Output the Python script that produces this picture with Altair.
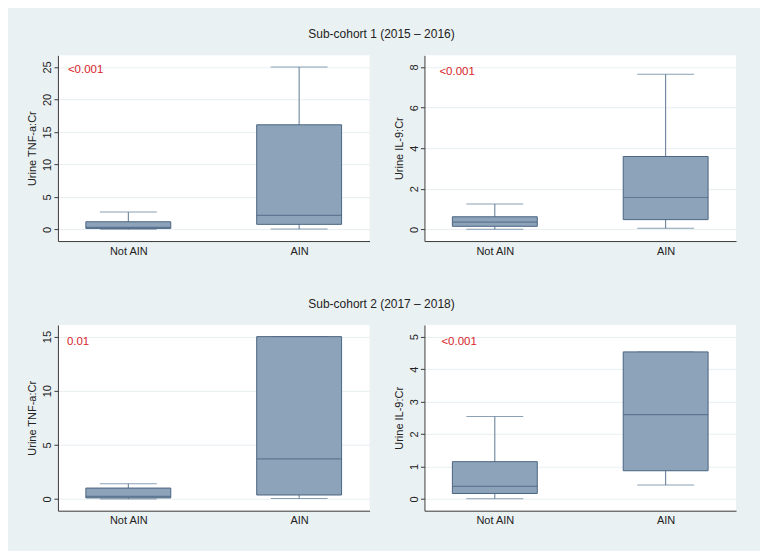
import altair as alt
import pandas as pd

groups = ["Not AIN", "AIN"]

# Panel 1: Sub-cohort 1, TNF-a:Cr
p1_low = [0.0, 0.05]
p1_q1 = [0.15, 0.77]
p1_med = [0.30, 2.15]
p1_q3 = [1.17, 16.1]
p1_high = [2.66, 25.0]

# Panel 2: Sub-cohort 1, IL-9:Cr
p2_low = [0.0, 0.05]
p2_q1 = [0.15, 0.48]
p2_med = [0.36, 1.57]
p2_q3 = [0.62, 3.59]
p2_high = [1.25, 7.64]

# Panel 3: Sub-cohort 2, TNF-a:Cr
p3_low = [0.0, 0.05]
p3_q1 = [0.10, 0.37]
p3_med = [0.25, 3.70]
p3_q3 = [1.01, 15.0]
p3_high = [1.41, 15.0]

# Panel 4: Sub-cohort 2, IL-9:Cr
p4_low = [0.01, 0.43]
p4_q1 = [0.17, 0.87]
p4_med = [0.39, 2.60]
p4_q3 = [1.15, 4.53]
p4_high = [2.54, 4.53]

y_titles = ["Urine TNF-a:Cr", "Urine IL-9:Cr", "Urine TNF-a:Cr", "Urine IL-9:Cr"]
p_values = ["<0.001", "<0.001", "0.01", "<0.001"]
y_ticks = [[0, 5, 10, 15, 20, 25], [0, 2, 4, 6, 8], [0, 5, 10, 15], [0, 1, 2, 3, 4, 5]]
y_domains = [[-1.8, 26.8], [-0.576, 8.576], [-1.08, 16.08], [-0.36, 5.36]]
row_titles = ["Sub-cohort 1 (2015 \u2013 2016)", "Sub-cohort 2 (2017 \u2013 2018)"]

# style
FONT = "Liberation Sans"
BG = "#eaf1f3"
BOX_FILL = "#8da3b9"
BOX_LINE = "#4a6482"
WHISKER = "#5d7894"
AXIS = "#3a3a3a"
GRID = "#e8eff1"
PCOLOR = "#d8232a"
W, H = 312, 186
p_offsets = [(10, 15), (15, 17), (9, 17), (17, 17)]

stats = [
    (p1_low, p1_q1, p1_med, p1_q3, p1_high),
    (p2_low, p2_q1, p2_med, p2_q3, p2_high),
    (p3_low, p3_q1, p3_med, p3_q3, p3_high),
    (p4_low, p4_q1, p4_med, p4_q3, p4_high),
]


def panel(i):
    low, q1, med, q3, high = stats[i]
    df = pd.DataFrame({"group": groups, "low": low, "q1": q1, "med": med, "q3": q3, "high": high})
    x = alt.X(
        "group:N",
        sort=groups,
        scale=alt.Scale(type="point", padding=0.412),
        axis=alt.Axis(title=None, ticks=False, labelAngle=0, labelPadding=4,
                      domainColor=AXIS, labelColor="#222222", labelFont=FONT,
                      labelFontSize=11, grid=False),
    )
    yscale = alt.Scale(domain=y_domains[i], nice=False, zero=False)
    yaxis = alt.Axis(
        title=y_titles[i], values=y_ticks[i], labelAngle=270, labelAlign="center",
        labelBaseline="bottom", labelPadding=1, tickSize=4, tickColor=AXIS,
        labelOverlap=False, labelFlush=False,
        domainColor=AXIS, labelColor="#222222", labelFont=FONT, labelFontSize=11,
        titleFont=FONT, titleFontSize=11, titleFontWeight="normal", titleColor="#222222",
        titlePadding=4, grid=True, gridColor=GRID,
    )

    def Y(field):
        return alt.Y(field, scale=yscale, axis=yaxis)

    base = alt.Chart(df).encode(x=x)
    whisk = base.mark_rule(color=WHISKER, strokeWidth=1).encode(y=Y("low:Q"), y2="high:Q")
    cap_lo = base.mark_tick(color=WHISKER, size=57, thickness=1).encode(y=Y("low:Q"))
    cap_hi = base.mark_tick(color=WHISKER, size=57, thickness=1).encode(y=Y("high:Q"))
    box = base.mark_bar(size=85, fill=BOX_FILL, stroke=BOX_LINE, strokeWidth=1).encode(
        y=Y("q1:Q"), y2="q3:Q")
    median = base.mark_tick(color=BOX_LINE, size=85, thickness=1.2).encode(y=Y("med:Q"))
    ox, oy = p_offsets[i]
    ptxt = alt.Chart(pd.DataFrame({"p": [p_values[i]]})).mark_text(
        align="left", baseline="middle", font=FONT, fontSize=11.5, color=PCOLOR
    ).encode(x=alt.value(ox), y=alt.value(oy), text="p:N")
    return alt.layer(whisk, cap_lo, cap_hi, box, median, ptxt).properties(width=W, height=H)


def row(r):
    return alt.hconcat(panel(2 * r), panel(2 * r + 1), spacing=24).properties(
        title=alt.TitleParams(row_titles[r], anchor="middle", font=FONT, fontSize=12,
                              fontWeight="normal", color="#222222", offset=14)
    )


chart = alt.vconcat(row(0), row(1), spacing=42).properties(
    padding={"left": 19, "top": 20, "right": 24, "bottom": 25}
).configure(background=BG).configure_view(fill="white", stroke=None)

chart.save("out.html", embed_options={"renderer": "svg", "actions": False})
